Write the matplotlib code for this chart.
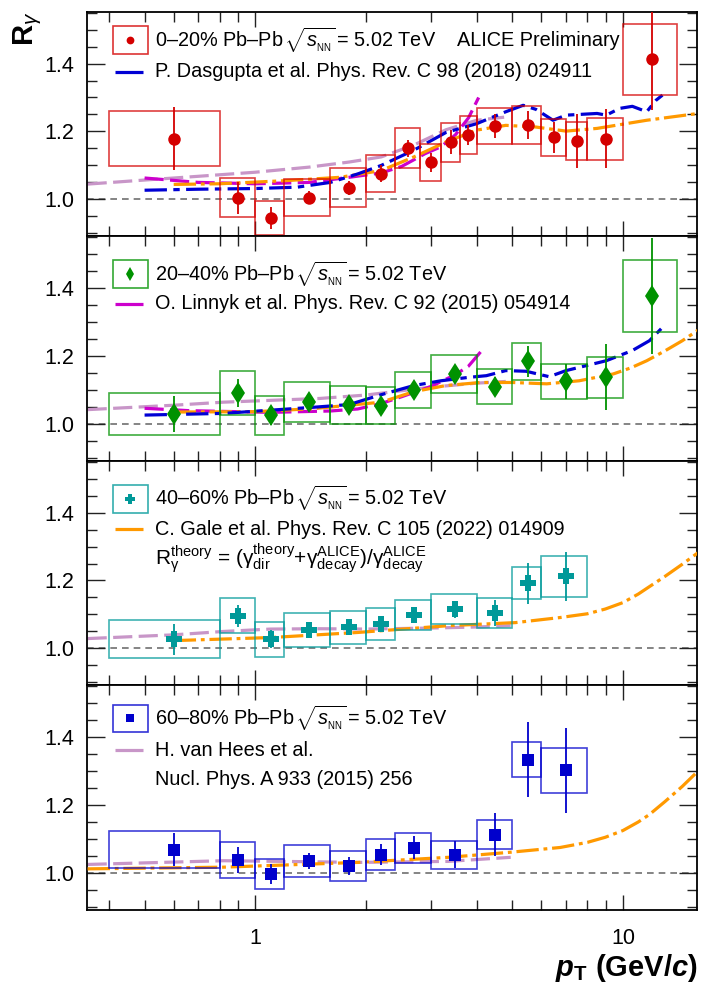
import matplotlib
matplotlib.use("Agg")
import matplotlib.pyplot as plt
from matplotlib.patches import Rectangle
from matplotlib.ticker import FixedLocator, NullFormatter

plt.rcParams['font.family'] = 'Liberation Sans'
plt.rcParams['mathtext.fontset'] = 'custom'
plt.rcParams['mathtext.rm'] = 'Liberation Sans'
plt.rcParams['mathtext.it'] = 'Liberation Sans:italic'
plt.rcParams['mathtext.bf'] = 'Liberation Sans:bold'
plt.rcParams['mathtext.bfit'] = 'Liberation Sans:italic:bold'

# ---- measured R_gamma, 0-20 %
pt_0020 = [0.6, 0.9, 1.1, 1.4, 1.8, 2.2, 2.6, 3.0, 3.4, 3.8, 4.5, 5.5, 6.5, 7.5, 9.0, 12.0]
lo_0020 = [0.4, 0.8, 1.0, 1.2, 1.6, 2.0, 2.4, 2.8, 3.2, 3.6, 4.0, 5.0, 6.0, 7.0, 8.0, 10.0]
hi_0020 = [0.8, 1.0, 1.2, 1.6, 2.0, 2.4, 2.8, 3.2, 3.6, 4.0, 5.0, 6.0, 7.0, 8.0, 10.0, 14.0]
r_0020 = [1.179, 1.005, 0.945, 1.005, 1.034, 1.076, 1.151, 1.109, 1.168, 1.189, 1.216, 1.219, 1.183, 1.172, 1.179, 1.412]
stat_0020 = [0.093, 0.047, 0.033, 0.02, 0.02, 0.024, 0.025, 0.027, 0.035, 0.03, 0.035, 0.042, 0.045, 0.08, 0.088, 0.15]
sys_0020 = [0.081, 0.057, 0.05, 0.054, 0.057, 0.055, 0.059, 0.054, 0.058, 0.056, 0.054, 0.057, 0.055, 0.057, 0.062, 0.104]

# ---- 20-40 %
pt_2040 = [0.6, 0.9, 1.1, 1.4, 1.8, 2.2, 2.7, 3.5, 4.5, 5.5, 7.0, 9.0, 12.0]
lo_2040 = [0.4, 0.8, 1.0, 1.2, 1.6, 2.0, 2.4, 3.0, 4.0, 5.0, 6.0, 8.0, 10.0]
hi_2040 = [0.8, 1.0, 1.2, 1.6, 2.0, 2.4, 3.0, 4.0, 5.0, 6.0, 8.0, 10.0, 14.0]
r_2040 = [1.029, 1.091, 1.025, 1.064, 1.057, 1.054, 1.100, 1.148, 1.110, 1.184, 1.125, 1.137, 1.377]
stat_2040 = [0.053, 0.04, 0.028, 0.018, 0.018, 0.02, 0.02, 0.023, 0.027, 0.045, 0.052, 0.097, 0.17]
sys_2040 = [0.061, 0.065, 0.057, 0.059, 0.056, 0.055, 0.054, 0.056, 0.051, 0.054, 0.052, 0.061, 0.105]

# ---- 40-60 % and 60-80 % share the binning
pt_per = [0.6, 0.9, 1.1, 1.4, 1.8, 2.2, 2.7, 3.5, 4.5, 5.5, 7.0]
lo_per = [0.4, 0.8, 1.0, 1.2, 1.6, 2.0, 2.4, 3.0, 4.0, 5.0, 6.0]
hi_per = [0.8, 1.0, 1.2, 1.6, 2.0, 2.4, 3.0, 4.0, 5.0, 6.0, 8.0]
r_4060 = [1.027, 1.096, 1.027, 1.055, 1.062, 1.072, 1.099, 1.115, 1.104, 1.192, 1.212]
stat_4060 = [0.045, 0.033, 0.027, 0.02, 0.019, 0.02, 0.022, 0.025, 0.038, 0.06, 0.072]
sys_4060 = [0.056, 0.051, 0.052, 0.05, 0.048, 0.047, 0.045, 0.044, 0.044, 0.047, 0.06]
r_6080 = [1.069, 1.038, 0.997, 1.036, 1.020, 1.054, 1.074, 1.054, 1.113, 1.333, 1.302]
stat_6080 = [0.05, 0.038, 0.03, 0.024, 0.026, 0.031, 0.034, 0.039, 0.064, 0.11, 0.125]
sys_6080 = [0.054, 0.053, 0.045, 0.047, 0.044, 0.045, 0.044, 0.041, 0.043, 0.052, 0.066]

# ---- model curves
hees_x = [[0.35, 0.5, 0.7, 1.0, 1.4, 1.8, 2.2, 2.7, 3.3, 4.0, 4.75],
          [0.35, 0.6, 0.82, 1.5, 2.0, 3.0, 4.0, 4.8],
          [0.35, 0.6, 0.82, 1.1, 1.5, 2.0, 3.0, 4.0, 4.95],
          [0.35, 0.82, 1.4, 1.9, 3.35, 4.95]]
hees_y = [[1.045, 1.057, 1.068, 1.08, 1.095, 1.11, 1.125, 1.16, 1.205, 1.233, 1.242],
          [1.042, 1.055, 1.064, 1.075, 1.085, 1.108, 1.12, 1.125],
          [1.029, 1.04, 1.05, 1.057, 1.058, 1.057, 1.06, 1.063, 1.067],
          [1.025, 1.036, 1.033, 1.031, 1.034, 1.046]]

gale_x = [[0.6, 0.8, 1.2, 1.7, 2.2, 2.7, 3.3, 4.0, 4.8, 5.8, 7.0, 8.5, 9.8, 11.6, 16.0],
          [0.6, 1.0, 1.44, 2.2, 2.7, 3.3, 4.1, 5.0, 6.2, 7.6, 9.4, 10.5, 11.6, 13.0, 14.5, 16.0],
          [0.6, 1.1, 1.9, 3.35, 5.1, 6.75, 8.0, 8.95, 10.0, 11.0, 11.8, 13.0, 14.5, 16.0],
          [0.35, 0.82, 1.9, 3.35, 4.95, 6.75, 8.0, 8.95, 10.0, 11.0, 11.8, 13.0, 14.5, 16.0]]
gale_y = [[1.044, 1.046, 1.055, 1.065, 1.085, 1.125, 1.169, 1.204, 1.218, 1.213, 1.201, 1.209, 1.22, 1.233, 1.253],
          [1.035, 1.036, 1.045, 1.064, 1.095, 1.113, 1.122, 1.122, 1.118, 1.127, 1.147, 1.165, 1.186, 1.215, 1.245, 1.276],
          [1.023, 1.032, 1.047, 1.067, 1.076, 1.091, 1.102, 1.116, 1.135, 1.16, 1.182, 1.212, 1.248, 1.282],
          [1.012, 1.017, 1.031, 1.046, 1.061, 1.075, 1.09, 1.105, 1.125, 1.15, 1.172, 1.21, 1.255, 1.30]]

dasgupta_x = [[0.5, 0.7, 1.0, 1.3, 1.6, 1.9, 2.2, 2.7, 3.3, 4.0, 4.8, 5.35, 5.8, 6.45, 7.0, 8.5, 9.0, 9.8, 10.6, 11.6, 12.3, 12.8],
              [0.5, 0.82, 1.44, 1.8, 2.2, 2.7, 3.2, 3.8, 4.25, 4.8, 5.45, 6.3, 7.0, 9.0, 10.6, 11.8, 12.8]]
dasgupta_y = [[1.027, 1.030, 1.032, 1.036, 1.05, 1.075, 1.10, 1.145, 1.197, 1.223, 1.258, 1.277, 1.265, 1.233, 1.248, 1.253, 1.248, 1.268, 1.274, 1.258, 1.292, 1.307],
              [1.026, 1.031, 1.049, 1.057, 1.086, 1.113, 1.127, 1.137, 1.142, 1.157, 1.155, 1.139, 1.157, 1.186, 1.216, 1.245, 1.284]]

linnyk_x = [[0.5, 0.7, 1.0, 1.4, 1.8, 2.2, 2.5, 2.9, 3.2, 3.5, 3.8, 4.05],
            [0.5, 0.66, 1.1, 1.6, 1.9, 2.2, 2.5, 3.0, 3.5, 3.8, 4.1]]
linnyk_y = [[1.063, 1.05, 1.046, 1.05, 1.065, 1.078, 1.097, 1.135, 1.155, 1.19, 1.24, 1.30],
            [1.046, 1.039, 1.034, 1.038, 1.044, 1.06, 1.08, 1.11, 1.145, 1.17, 1.212]]

energy = r'$\!\sqrt{s_{_{\rm NN}}}\!$ = 5.02 TeV'
labels = ['0\u201320% Pb\u2013Pb ' + energy,
          '20\u201340% Pb\u2013Pb ' + energy,
          '40\u201360% Pb\u2013Pb ' + energy,
          '60\u201380% Pb\u2013Pb ' + energy]
model_labels = ['P. Dasgupta et al. Phys. Rev. C 98 (2018) 024911',
                'O. Linnyk et al. Phys. Rev. C 92 (2015) 054914',
                'C. Gale et al. Phys. Rev. C 105 (2022) 014909',
                'H. van Hees et al.']

RED, GREEN, TEAL, BLUE = '#d40000', '#009200', '#009999', '#0000cc'
C_DAS, C_LIN, C_GALE, C_HEES = '#0000d4', '#cc00cc', '#ff9900', '#c896c8'
FS = 14.3

fig, axes = plt.subplots(4, 1, figsize=(7.02, 9.92), dpi=100, sharex=True)
fig.subplots_adjust(left=0.1235, right=0.993, top=0.988, bottom=0.0827, hspace=0)

panels = [
    (pt_0020, lo_0020, hi_0020, r_0020, stat_0020, sys_0020, RED, 'o', 9),
    (pt_2040, lo_2040, hi_2040, r_2040, stat_2040, sys_2040, GREEN, 'd', 11.5),
    (pt_per, lo_per, hi_per, r_4060, stat_4060, sys_4060, TEAL, 'P', 12),
    (pt_per, lo_per, hi_per, r_6080, stat_6080, sys_6080, BLUE, 's', 9),
]

for i, ax in enumerate(axes):
    pt, lo, hi, r, stat, sys_, col, mk, ms = panels[i]
    ax.set_xscale('log')
    ax.set_xlim(0.348, 15.9)
    ax.set_ylim(0.891, 1.552)
    ax.axhline(1.0, color='#707070', lw=1.2, ls=(0, (4, 3)), zorder=1)

    # models
    ax.plot(hees_x[i], hees_y[i], color=C_HEES, lw=2.3, dashes=(6, 2), zorder=2)
    if i < 2:
        ax.plot(linnyk_x[i], linnyk_y[i], color=C_LIN, lw=2.3, dashes=(6, 2), zorder=3)
    ax.plot(gale_x[i], gale_y[i], color=C_GALE, lw=2.3, dashes=(7, 1.5, 1.2, 1.5), zorder=3)
    if i < 2:
        ax.plot(dasgupta_x[i], dasgupta_y[i], color=C_DAS, lw=2.3, dashes=(7, 2, 2, 2), zorder=4)

    # systematic boxes + statistical bars
    widths = [h - l for l, h in zip(lo, hi)]
    bottoms = [v - s for v, s in zip(r, sys_)]
    heights = [2 * s for s in sys_]
    ax.bar(lo, heights, width=widths, bottom=bottoms, align='edge', fill=False,
           edgecolor=col, alpha=0.75, lw=1.2, zorder=5)
    ax.errorbar(pt, r, yerr=stat, fmt=mk, color=col, ms=ms, mew=0,
                elinewidth=1.3, capsize=0, zorder=6)

    # axis cosmetics
    ax.set_xticks([1, 10])
    ax.xaxis.set_minor_locator(FixedLocator([0.4, 0.5, 0.6, 0.7, 0.8, 0.9,
                                             2, 3, 4, 5, 6, 7, 8, 9]))
    ax.xaxis.set_minor_formatter(NullFormatter())
    ax.set_xticklabels(['1', '10'])
    ax.set_yticks([1.0, 1.2, 1.4])
    ax.set_yticklabels(['1.0', '1.2', '1.4'])
    ax.yaxis.set_minor_locator(FixedLocator([0.9, 0.95, 1.05, 1.1, 1.15, 1.25, 1.3, 1.35, 1.45, 1.5, 1.55]))
    ax.tick_params(axis='both', which='both', direction='in', top=True, right=True,
                   width=1.0, color='#222222', labelsize=15.5)
    ax.tick_params(axis='x', which='major', length=11, pad=13)
    ax.tick_params(axis='x', which='minor', length=7)
    ax.tick_params(axis='y', which='major', length=13, pad=9)
    ax.tick_params(axis='y', which='minor', length=7)
    for sp in ax.spines.values():
        sp.set_linewidth(1.3)

# ---- legends drawn in axes coordinates
leg_rows = [(0.874, 0.734), (0.832, 0.700), (0.832, 0.695), (0.853, 0.712)]
model_cols = [C_DAS, C_LIN, C_GALE, C_HEES]
for i, ax in enumerate(axes):
    pt, lo, hi, r, stat, sys_, col, mk, ms = panels[i]
    y1, y2 = leg_rows[i]
    ax.add_patch(Rectangle((0.043, y1 - 0.062), 0.057, 0.124, transform=ax.transAxes,
                           fill=False, edgecolor=col, alpha=0.8, lw=1.2, zorder=7))
    ax.plot([0.0715], [y1], mk, color=col, ms=ms * 0.62, mew=0, transform=ax.transAxes, zorder=8)
    ax.text(0.112, y1, labels[i], transform=ax.transAxes, va='center', fontsize=FS)
    ax.plot([0.0465, 0.092], [y2, y2], color=model_cols[i], lw=2.3,
            solid_capstyle='butt', transform=ax.transAxes)
    ax.text(0.112, y2, model_labels[i], transform=ax.transAxes, va='center', fontsize=FS)

axes[0].text(0.607, 0.874, 'ALICE Preliminary', transform=axes[0].transAxes, va='center', fontsize=FS)
axes[2].text(0.112, 0.565,
             r'$\mathrm{R_{\gamma}^{theory}}$ = ($\mathrm{\gamma_{dir}^{theory}}$+'
             r'$\mathrm{\gamma_{decay}^{ALICE}}$)/$\mathrm{\gamma_{decay}^{ALICE}}$',
             transform=axes[2].transAxes, va='center', fontsize=15)
axes[3].text(0.112, 0.583, 'Nucl. Phys. A 933 (2015) 256', transform=axes[3].transAxes,
             va='center', fontsize=FS)

fig.text(0.04, 0.988, r'$\mathbf{R}_{\gamma}$', rotation=90, ha='center', va='top', fontsize=21)
fig.text(0.993, 0.024, r'$\mathbfit{p}_{\mathbf{T}}$ (GeV/$\mathbfit{c}$)', ha='right', va='center',
         fontsize=21, fontweight='bold')

fig.savefig('out.png', dpi=100)
